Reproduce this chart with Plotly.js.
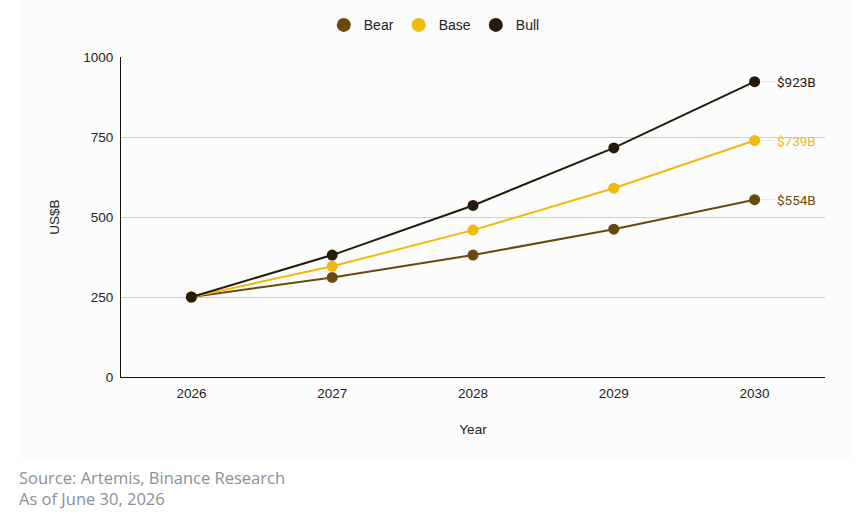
<!DOCTYPE html>
<html>
<head>
<meta charset="utf-8">
<script src="https://cdn.plot.ly/plotly-3.0.1.min.js"></script>
<style>
  html, body { margin: 0; padding: 0; background: #fff; }
  #chart { width: 868px; height: 519px; }
</style>
</head>
<body>
<div id="chart"></div>
<script>
var years = ['2026', '2027', '2028', '2029', '2030'];
var bear = [250, 311, 381, 462, 554];
var base = [250, 346, 459, 590, 739];
var bull = [250, 381, 536, 716, 923];
var endLabels = ['&#36;554B', '&#36;739B', '&#36;923B'];
var sourceLines = ['Source: Artemis, Binance Research', 'As of June 30, 2026'];

var colors = { bear: '#6a4a0c', base: '#f0b90b', bull: '#251b08' };

function makeTrace(name, y, color) {
  return {
    x: years,
    y: y,
    name: name,
    type: 'scatter',
    mode: 'lines+markers',
    line: { color: color, width: 2 },
    marker: { color: color, size: 11 },
    showlegend: false
  };
}

// legend shows dots only, so use marker-only entries
function legendEntry(name, color) {
  return {
    x: [null], y: [null],
    name: name,
    type: 'scatter',
    mode: 'markers',
    marker: { color: color, size: 14 },
    showlegend: true
  };
}

var data = [
  makeTrace('Bear', bear, colors.bear),
  makeTrace('Base', base, colors.base),
  makeTrace('Bull', bull, colors.bull),
  legendEntry('Bear', colors.bear),
  legendEntry('Base', colors.base),
  legendEntry('Bull', colors.bull)
];

// end-of-line value labels
var series = [[bear, colors.bear], [base, colors.base], [bull, colors.bull]];
var annotations = series.map(function (s, i) {
  return {
    xref: 'x', yref: 'y',
    x: years.length - 1,
    y: s[0][s[0].length - 1],
    text: endLabels[i],
    showarrow: true,
    arrowhead: 0,
    arrowwidth: 1,
    arrowcolor: '#e2e2e2',
    standoff: 6,
    ax: 20,
    ay: 0,
    xanchor: 'left',
    font: { family: 'Roboto, Arial, sans-serif', size: 13.5, color: s[1] }
  };
});

// source footer
annotations.push({
  xref: 'paper', yref: 'paper',
  x: -0.146, y: -0.346,
  xanchor: 'left', yanchor: 'middle',
  align: 'left',
  showarrow: false,
  borderpad: 0,
  text: sourceLines.join('<br>'),
  font: { family: '"Open Sans", sans-serif', size: 16.5, color: '#8a909b' }
});

var layout = {
  width: 868,
  height: 519,
  margin: { l: 121, r: 43, t: 57, b: 142, autoexpand: false },
  paper_bgcolor: '#ffffff',
  plot_bgcolor: 'rgba(0,0,0,0)',
  font: { family: '"Liberation Sans", Arial, sans-serif', size: 13.5, color: '#222' },
  showlegend: true,
  legend: {
    orientation: 'h',
    x: 0.445, xanchor: 'center',
    y: 1.099, yanchor: 'middle',
    bgcolor: 'rgba(0,0,0,0)',
    font: { size: 14, color: '#222' },
    itemclick: false
  },
  xaxis: {
    type: 'category',
    range: [-0.5, 4.5],
    automargin: false,
    showline: true,
    linecolor: '#111',
    linewidth: 1,
    showgrid: false,
    ticks: 'outside',
    ticklen: 4,
    tickcolor: 'rgba(0,0,0,0)',
    title: { text: 'Year', standoff: 24, font: { size: 13.5, color: '#222' } }
  },
  yaxis: {
    range: [0, 1000],
    tickvals: [0, 250, 500, 750, 1000],
    automargin: false,
    showline: true,
    linecolor: '#111',
    linewidth: 1,
    gridcolor: '#cfcfcf',
    zeroline: false,
    ticks: 'outside',
    ticklen: 4,
    tickcolor: 'rgba(0,0,0,0)',
    title: { text: 'US$B', standoff: 20, font: { size: 13.5, color: '#222' } }
  },
  shapes: [{
    type: 'rect', xref: 'paper', yref: 'paper', layer: 'below',
    x0: -0.145, x1: 1.037, y0: -0.253, y1: 1.178,
    fillcolor: '#fcfcfc', line: { width: 0 }
  }],
  annotations: annotations
};

Plotly.newPlot('chart', data, layout, { displayModeBar: false });
</script>
</body>
</html>
